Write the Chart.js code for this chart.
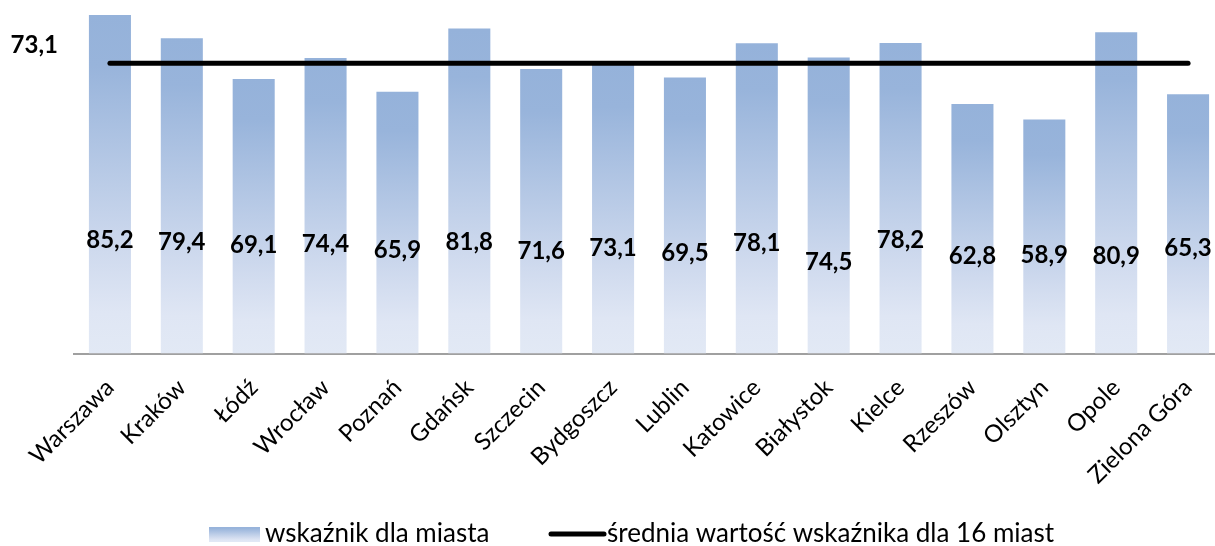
<!DOCTYPE html>
<html><head><meta charset="utf-8">
<script src="https://cdn.jsdelivr.net/npm/chart.js@4"></script>
<style>html,body{margin:0;padding:0;overflow:hidden;background:#fff}#wrap{width:1224px;height:546px}</style>
</head><body><div id="wrap"><canvas id="c" width="1224" height="546"></canvas></div>
<script>
const categories = ['Warszawa','Kraków','Łódź','Wrocław','Poznań','Gdańsk','Szczecin','Bydgoszcz','Lublin','Katowice','Białystok','Kielce','Rzeszów','Olsztyn','Opole','Zielona Góra'];
const cityValues = [85.2,79.4,69.1,74.4,65.9,81.8,71.6,73.1,69.5,78.1,74.5,78.2,62.8,58.9,80.9,65.3];
const averageValue = 73.1;
const averageSeries = categories.map(() => averageValue);
const seriesNames = ['wskaźnik dla miasta', 'średnia wartość wskaźnika dla 16 miast'];
const fmt = v => v.toFixed(1).replace('.', ',');

const FONT = 'Lato, "Open Sans", sans-serif';
// small vertical nudges (px) of each value label, as placed in the reference
const labelNudge = [-6,-4,-1,-2,4,-4,5,2,7,-3,16,-6,10,9,10,2];

function barGradient(ctx, top, bottom) {
  const g = ctx.createLinearGradient(0, top, 0, bottom);
  g.addColorStop(0, '#95B2DA');
  g.addColorStop(0.15, '#98B4DB');
  g.addColorStop(0.7, '#CFDAEE');
  g.addColorStop(0.88, '#DFE6F4');
  g.addColorStop(1, '#E2E9F5');
  return g;
}

const valueLabels = {
  id: 'valueLabels',
  afterDatasetsDraw(chart) {
    const ctx = chart.ctx, y = chart.scales.y;
    const barMeta = chart.getDatasetMeta(1);
    const lineMeta = chart.getDatasetMeta(0);
    ctx.save();
    ctx.font = 'bold 24px ' + FONT;
    ctx.fillStyle = '#000';
    ctx.textAlign = 'center';
    ctx.textBaseline = 'middle';
    barMeta.data.forEach((bar, i) => {
      ctx.fillText(fmt(cityValues[i]), bar.x, y.getPixelForValue(27) + labelNudge[i]);
    });
    ctx.textAlign = 'right';
    ctx.fillText(fmt(averageValue), 58, lineMeta.data[0].y - 18);
    ctx.restore();
  }
};

const customLegend = {
  id: 'customLegend',
  afterDraw(chart) {
    const ctx = chart.ctx;
    const cy = 534;
    ctx.save();
    ctx.font = '26px ' + FONT;
    ctx.textBaseline = 'middle';
    ctx.textAlign = 'left';
    let x = 209;
    ctx.fillStyle = barGradient(ctx, cy - 8, cy + 8);
    ctx.fillRect(x, cy - 7, 51, 15);
    ctx.fillStyle = '#000';
    ctx.fillText(seriesNames[0], x + 56, cy);
    x = 551;
    ctx.strokeStyle = '#000';
    ctx.lineWidth = 5;
    ctx.lineCap = 'round';
    ctx.beginPath(); ctx.moveTo(x, cy); ctx.lineTo(x + 53, cy); ctx.stroke();
    ctx.fillText(seriesNames[1], x + 56, cy);
    ctx.restore();
  }
};

new Chart(document.getElementById('c'), {
  data: {
    labels: categories,
    datasets: [
      {
        type: 'line',
        label: seriesNames[1],
        data: averageSeries,
        borderColor: '#000',
        borderWidth: 5,
        borderCapStyle: 'round',
        pointRadius: 0,
        fill: false,
        order: 0
      },
      {
        type: 'bar',
        label: seriesNames[0],
        data: cityValues,
        backgroundColor(c) {
          const chart = c.chart;
          const y = chart.scales && chart.scales.y;
          if (!y || c.dataIndex === undefined || !chart.chartArea) return '#B4C7E7';
          return barGradient(chart.ctx, y.getPixelForValue(cityValues[c.dataIndex]), y.getPixelForValue(0));
        },
        barPercentage: 0.585,
        categoryPercentage: 1,
        order: 1
      }
    ]
  },
  options: {
    responsive: false,
    animation: false,
    devicePixelRatio: 1,
    layout: { padding: { left: 74, top: 0, right: 0, bottom: 0 } },
    plugins: { legend: { display: false }, tooltip: { enabled: false } },
    scales: {
      x: {
        offset: true,
        grid: { display: false, drawTicks: false },
        border: { display: true, color: '#A0A0A0', width: 2 },
        ticks: {
          color: '#000',
          font: { family: FONT, size: 24 },
          minRotation: 45, maxRotation: 45,
          padding: 20,
          autoSkip: false
        },
        afterFit(s) { s.height = 192.5; s.paddingLeft = 0; s.paddingRight = 0; }
      },
      y: {
        display: false,
        min: 0, max: 89
      }
    }
  },
  plugins: [valueLabels, customLegend]
});
</script></body></html>
